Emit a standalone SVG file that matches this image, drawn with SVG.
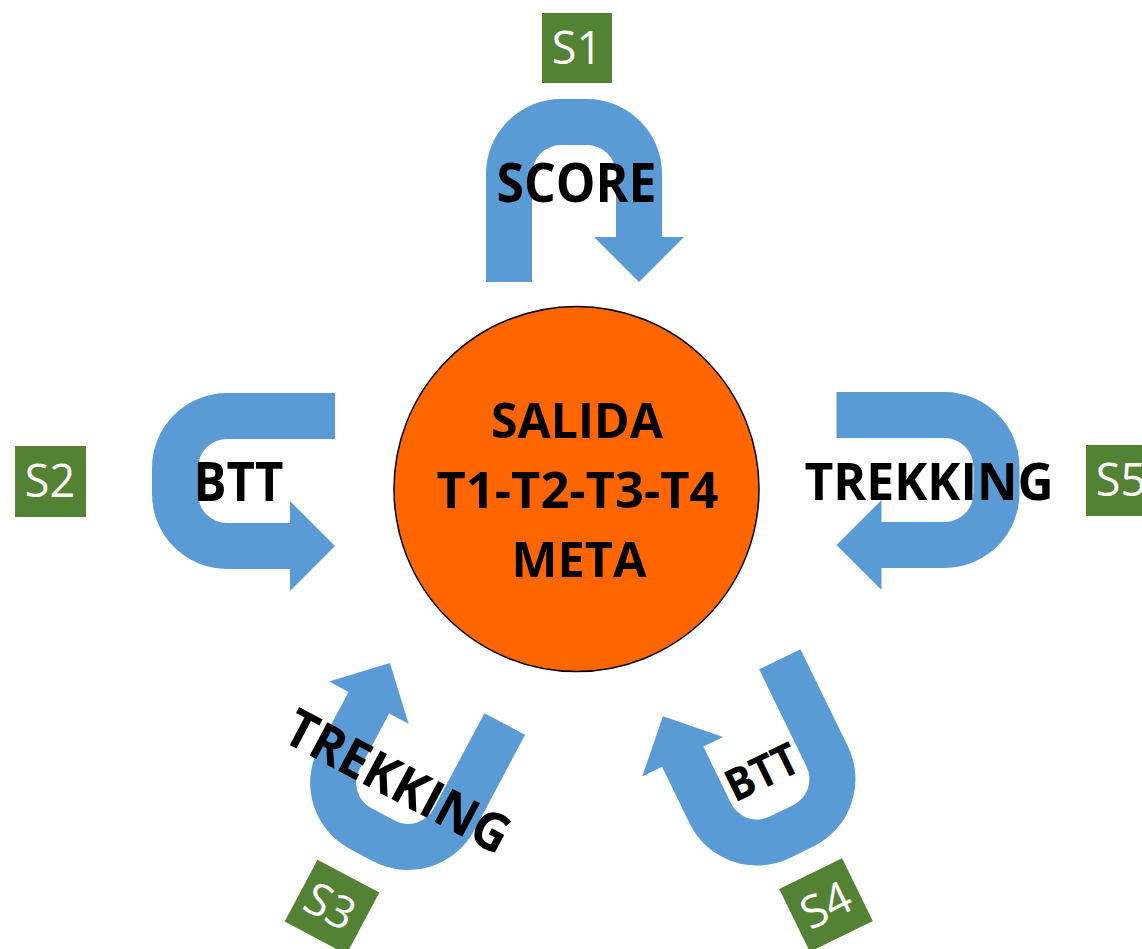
<svg xmlns="http://www.w3.org/2000/svg" xmlns:xlink="http://www.w3.org/1999/xlink" width="1142" height="949" viewBox="0 0 1142 949">
<style>
.arrow{fill:#5B9BD5;}
.lbl{font-family:"Open Sans","Liberation Sans",sans-serif;font-weight:700;fill:#000;text-anchor:middle;}
.sbox{fill:#548235;}
.stxt{font-family:"Open Sans","Liberation Sans",sans-serif;font-weight:400;font-size:45px;fill:#fff;text-anchor:middle;}
.hub{fill:#FF6600;stroke:#000;stroke-width:1.5;}
</style>
<defs>
<path id="uturn" d="M -88 91.5 L -88 -16.5 A 75 75 0 0 1 -13 -91.5 L 13 -91.5 A 75 75 0 0 1 88 -16.5 L 88 46.5 L 110 46.5 L 65 91.5 L 20 46.5 L 42 46.5 L 42 -16.5 A 29 29 0 0 0 13 -45.5 L -13 -45.5 A 29 29 0 0 0 -42 -16.5 L -42 91.5 Z"/>
</defs>
<rect width="1142" height="949" fill="#fff"/>
<g id="connectors">
<g id="arrow-s1">
<use xlink:href="#uturn" href="#uturn" class="arrow" transform="translate(574,190.5)"/>
<text class="lbl" x="576.5" y="202" font-size="54" textLength="160" lengthAdjust="spacingAndGlyphs">SCORE</text>
</g>
<g id="arrow-s2">
<use xlink:href="#uturn" href="#uturn" class="arrow" transform="matrix(0,1,1,0,243.5,481)"/>
<text class="lbl" x="238.5" y="501" font-size="53" textLength="90" lengthAdjust="spacingAndGlyphs">BTT</text>
</g>
<g id="arrow-s5">
<use xlink:href="#uturn" href="#uturn" class="arrow" transform="matrix(0,1,-1,0,928,480)"/>
<text class="lbl" x="929" y="500" font-size="52" textLength="249" lengthAdjust="spacingAndGlyphs">TREKKING</text>
</g>
<g id="arrow-s3">
<use xlink:href="#uturn" href="#uturn" class="arrow" transform="translate(404.4,774.3) rotate(208)"/>
<text class="lbl" transform="translate(398,781) rotate(28)" x="0" y="19" font-size="53" textLength="246" lengthAdjust="spacingAndGlyphs">TREKKING</text>
</g>
<g id="arrow-s4">
<use xlink:href="#uturn" href="#uturn" class="arrow" transform="translate(761.5,770) rotate(154)"/>
<text class="lbl" transform="translate(762,772) rotate(-26)" x="0" y="16" font-size="45" textLength="76" lengthAdjust="spacingAndGlyphs">BTT</text>
</g>
</g>
<g id="hub">
<circle class="hub" cx="576.5" cy="489" r="182.5"/>
<text class="lbl" x="577" y="438" font-size="49" textLength="172" lengthAdjust="spacingAndGlyphs">SALIDA</text>
<text class="lbl" x="577.5" y="508" font-size="50" textLength="282" lengthAdjust="spacingAndGlyphs">T1-T2-T3-T4</text>
<text class="lbl" x="579" y="577" font-size="49" textLength="135" lengthAdjust="spacingAndGlyphs">META</text>
</g>
<g id="s1">
<rect class="sbox" x="542" y="13" width="70" height="70"/>
<text class="stxt" x="577" y="64">S1</text>
</g>
<g id="s2">
<rect class="sbox" x="15" y="446" width="71" height="71"/>
<text class="stxt" x="50" y="497">S2</text>
</g>
<g id="s5">
<rect class="sbox" x="1086" y="445" width="71" height="71"/>
<text class="stxt" x="1121" y="496">S5</text>
</g>
<g id="s3" transform="translate(332,907) rotate(28)">
<rect class="sbox" x="-35" y="-35" width="70" height="70"/>
<text class="stxt" x="-2" y="16">S3</text>
</g>
<g id="s4" transform="translate(826,905) rotate(-26)">
<rect class="sbox" x="-35" y="-35" width="70" height="70"/>
<text class="stxt" x="0" y="16">S4</text>
</g>
</svg>
